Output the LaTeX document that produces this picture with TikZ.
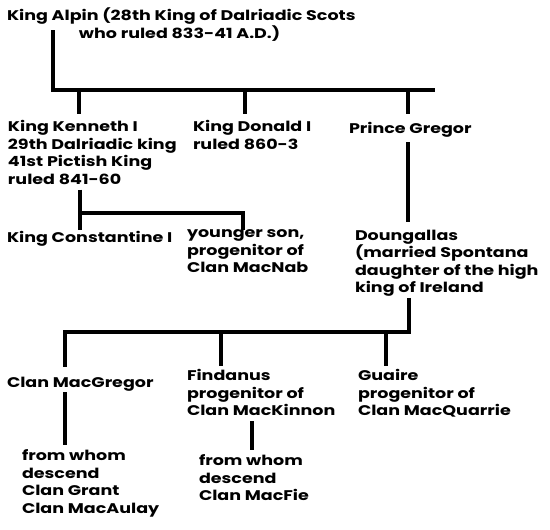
\documentclass[tikz,border=0pt]{standalone}
\usepackage{fontspec}
\setmainfont{Poppins}[FakeStretch=1.25]
\tikzset{
  person/.style={anchor=north west, align=left, inner sep=0pt, outer sep=0pt,
    font=\fontsize{14}{17.5}\selectfont\bfseries,
    execute at begin node=\strut, execute at end node=\strut},
  bar/.style={line width=4pt, line join=miter}
}
\begin{document}
\begin{tikzpicture}[x=1pt,y=-1pt]
\useasboundingbox (0,0) rectangle (550,530);

% first generation
\node[person] (alpin) at (7,7.75) {King Alpin (28th King of Dalriadic Scots\\\hspace*{72pt}who ruled 833-41 A.D.)};
\coordinate (alpinfoot) at (53,30);
\coordinate (alpinend) at (435,90);
\draw[bar] (alpinfoot) |- (alpinend);

% sons of Alpin
\node[person] (kenneth) at (8,120.75) {King Kenneth I\\29th Dalriadic king\\41st Pictish King\\ruled 841-60};
\node[person] (donald) at (193,120.75) {King Donald I\\ruled 860-3};
\node[person] (gregor) at (349,120.75) {Prince Gregor};
\draw[bar, shorten >=7pt] (79,90) -- (kenneth.north -| 79,0);
\draw[bar, shorten >=7pt] (245,90) -- (donald.north -| 245,0);
\draw[bar, shorten >=7pt] (408,90) -- (gregor.north -| 408,0);

% line of Kenneth
\node[person] (constantine) at (7,229.75) {King Constantine I};
\node[person] (younger) at (187,229.75) {younger son,\\progenitor of\\Clan MacNab};
\draw[bar] (kenneth.south -| 80,0) -- (constantine.north -| 80,0);
\draw[bar] (80,213) -| (younger.north -| 243,0);

% line of Gregor
\node[person] (doungallas) at (355,229.75) {Doungallas\\(married Spontana\\daughter of the high\\king of Ireland};
\draw[bar, shorten <=4pt, shorten >=8pt] (gregor.south -| 408,0) -- (doungallas.north -| 408,0);

% clans
\node[person] (macgregor) at (7,374.75) {Clan MacGregor};
\node[person] (findanus) at (187,369.75) {Findanus\\progenitor of\\Clan MacKinnon};
\node[person] (guaire) at (358,369.75) {Guaire\\progenitor of\\Clan MacQuarrie};
\draw[bar, shorten >=8pt] (doungallas.south -| 409,0) |- (65,332) -- (macgregor.north -| 65,0);
\draw[bar, shorten >=4pt] (221,332) -- (findanus.north -| 221,0);
\draw[bar, shorten >=4pt] (386,332) -- (guaire.north -| 386,0);

% descendants
\node[person] (grant) at (22,449.75) {from whom\\descend\\Clan Grant\\Clan MacAulay};
\node[person] (macfie) at (199,454.75) {from whom\\descend\\Clan MacFie};
\draw[bar, shorten >=5pt] (macgregor.south -| 65,0) -- (grant.north -| 65,0);
\draw[bar, shorten >=5pt] (findanus.south -| 252,0) -- (macfie.north -| 252,0);
\end{tikzpicture}
\end{document}
